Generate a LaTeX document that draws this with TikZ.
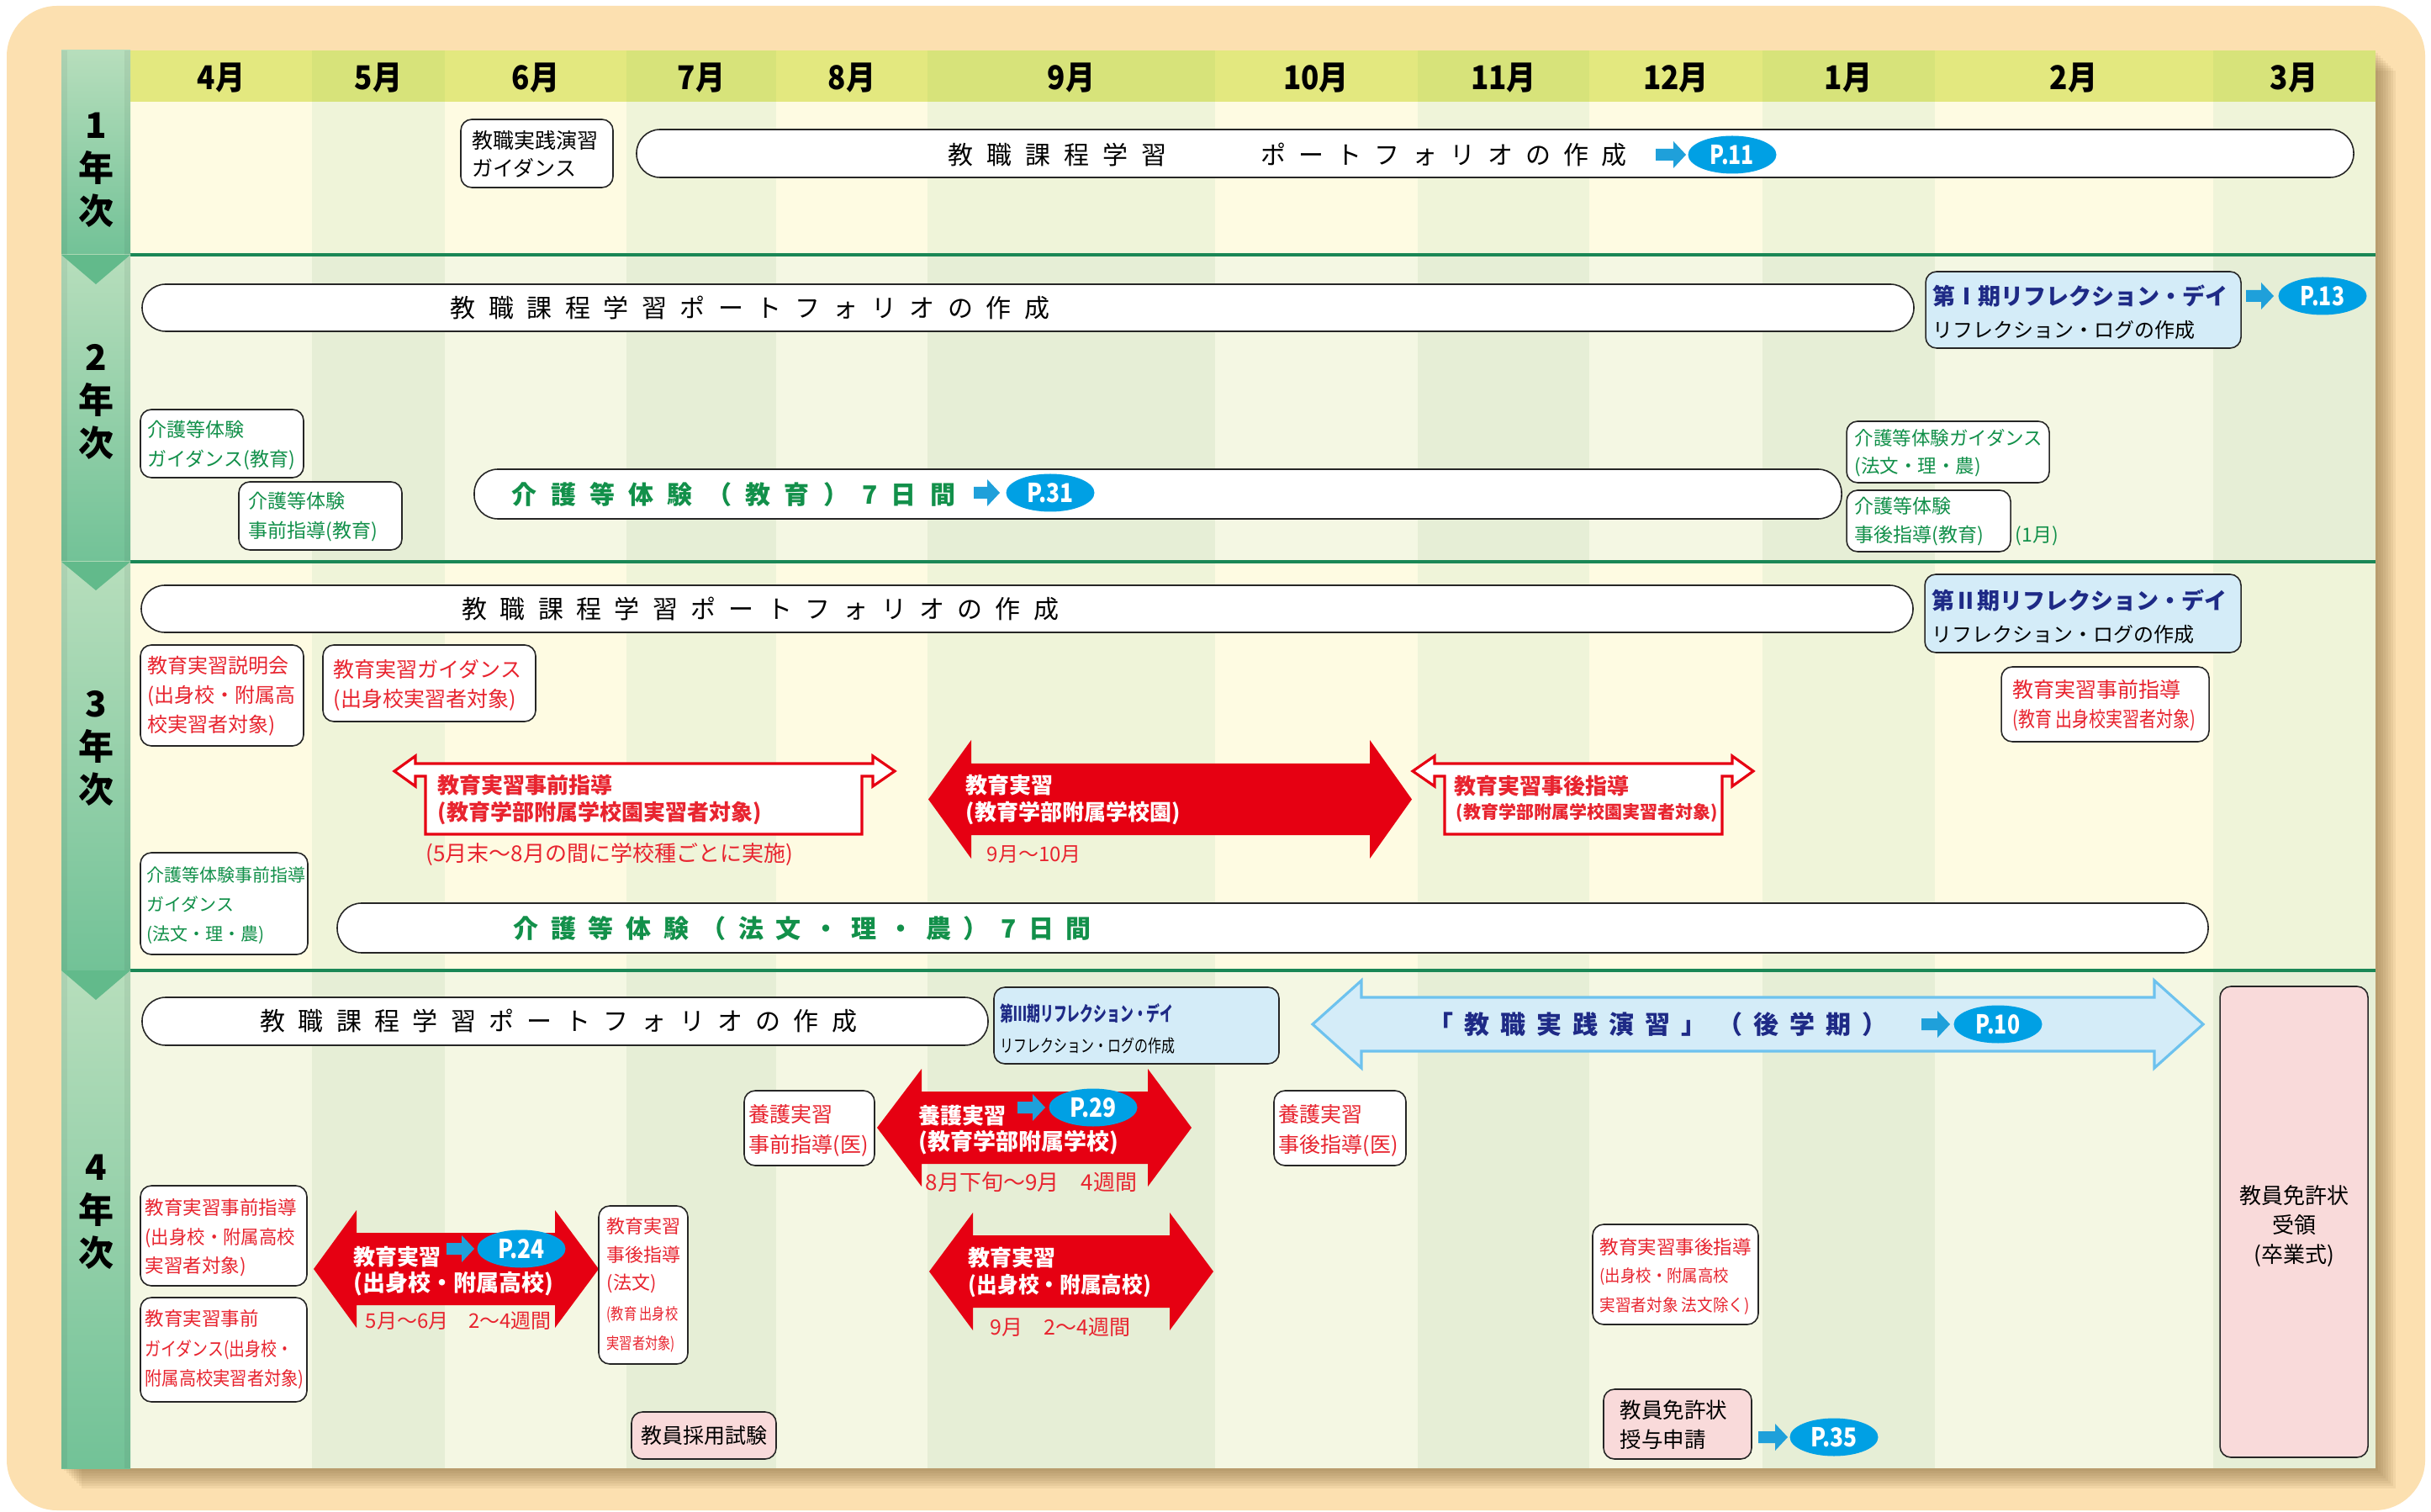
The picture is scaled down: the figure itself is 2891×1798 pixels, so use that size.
\documentclass[tikz,border=0pt]{standalone}
\usepackage{fontspec}
\setmainfont{Noto Sans CJK JP}
\usepackage{graphicx}
\usetikzlibrary{shapes.geometric}
\newdimen\pxu \pxu=0.1mm
\newcommand\fz[2]{\fontsize{#1\pxu}{#2\pxu}\selectfont}
\newcommand\cnd[2]{\scalebox{#1}[1]{#2}}
\makeatletter
\newcommand\sptxt[2]{\begingroup\def\sp@g{#1}\@tfor\sp@c:=#2\do{\sp@c\hskip\sp@g\pxu\relax}\unskip\endgroup}
\makeatother
\definecolor{panel}{HTML}{FCE0B0}
\definecolor{hdA}{HTML}{E3E87F}
\definecolor{hdB}{HTML}{D7E37A}
\definecolor{yA}{HTML}{FEFBE2}
\definecolor{yB}{HTML}{EFF4D9}
\definecolor{gA}{HTML}{F4F7E3}
\definecolor{gB}{HTML}{E6EED6}
\definecolor{sepg}{HTML}{1A8756}
\definecolor{ycTop}{HTML}{B7DEBC}
\definecolor{ycBot}{HTML}{72C297}
\definecolor{triC}{HTML}{62BA8B}
\definecolor{redc}{HTML}{E60012}
\definecolor{redt}{HTML}{E8242F}
\definecolor{grn}{HTML}{12904A}
\definecolor{navy}{HTML}{1E2A86}
\definecolor{lblue}{HTML}{D4ECF8}
\definecolor{lbline}{HTML}{6DC2EE}
\definecolor{pblue}{HTML}{00A0E4}
\definecolor{parrowc}{HTML}{1FA0DA}
\definecolor{pinkf}{HTML}{F9DADA}
\definecolor{shadowc}{HTML}{6B4E22}
\newcommand\dblarrow[8]{\path[#1] (#2,#6) -- (#3,#6-#8) -- (#3,#6-#7) -- (#4,#6-#7) -- (#4,#6-#8) -- (#5,#6) -- (#4,#6+#8) -- (#4,#6+#7) -- (#3,#6+#7) -- (#3,#6+#8) -- cycle;}
\newcommand\outarrow[6]{\path[rout] (#1,917) -- (#2,899) -- (#2,908) -- (#5,908) -- (#5,899) -- (#6,917) -- (#5,935) -- (#5,923) -- (#4,923) -- (#4,992) -- (#3,992) -- (#3,923) -- (#2,923) -- (#2,935) -- cycle;}
\newcommand\parw[3]{\fill[parrowc] (#1,#3-7) -- (#2-15,#3-7) -- (#2-15,#3-16) -- (#2,#3) -- (#2-15,#3+16) -- (#2-15,#3+7) -- (#1,#3+7) -- cycle;}
\begin{document}
\begin{tikzpicture}[x=0.1mm,y=-0.1mm,
  box/.style={draw=black!85, line width=0.45pt, rounded corners=1.3mm, fill=white},
  pbox/.style={box, fill=pinkf},
  bbox/.style={box, fill=lblue},
  pill/.style={draw=black!85, line width=0.45pt, rounded corners=2.8mm, fill=white},
  tx/.style={inner sep=0pt, anchor=west, align=left},
  tc/.style={inner sep=0pt, align=center},
  pell/.style={ellipse, fill=pblue, text=white, inner sep=0pt, minimum width=10.5mm, minimum height=4.5mm, font=\fz{31}{32}\bfseries},
  rout/.style={draw=redc, line width=0.9pt, fill=white, line join=miter},
  rsolid/.style={fill=redc},
  bout/.style={draw=lbline, line width=0.9pt, fill=lblue, line join=miter},
  month/.style={inner sep=0pt, font=\fz{39}{40}\bfseries},
  year/.style={inner sep=0pt, align=center, font=\fz{42}{51}\bfseries}
]
% background and panel
\fill[white] (0,0) rectangle (2891,1798);
\fill[panel, rounded corners=6mm] (8,7) rectangle (2884,1796);
% shadow
\foreach \k in {1,...,8}
  \fill[shadowc, opacity=0.07] (73+3*\k,60+3*\k) rectangle (2825+3*\k,1746+3*\k);
% columns
\foreach \xa/\xb [count=\i] in {155/371,371/529,529/745,745/923,923/1103,1103/1445,1445/1686,1686/1890,1890/2096,2096/2301,2301/2632,2632/2825}{
  \ifodd\i \def\ca{hdA}\def\cb{yA}\def\cc{gA}\else \def\ca{hdB}\def\cb{yB}\def\cc{gB}\fi
  \fill[\ca] (\xa,60) rectangle (\xb,121);
  \fill[\cb] (\xa,121) rectangle (\xb,303);
  \fill[\cc] (\xa,303) rectangle (\xb,668);
  \fill[\cb] (\xa,668) rectangle (\xb,1154);
  \fill[\cc] (\xa,1154) rectangle (\xb,1746);
}
\foreach \y in {303,668,1154}
  \draw[sepg, line width=1.15pt] (155,\y) -- (2825,\y);
% month labels
\foreach \m/\x in {4月/263,5月/450,6月/637,7月/834,8月/1013,9月/1274,10月/1565,11月/1788,12月/1993,1月/2198,2月/2466,3月/2728}
  \node[month] (m\x) at (\x,93) {\cnd{0.9}{\m}};
% year column
\foreach \ya/\yb in {60/303,303/668,668/1154,1154/1746}
  \shade[top color=ycTop, bottom color=ycBot] (73,\ya) rectangle (155,\yb);
\fill[black, opacity=0.05] (73,60) rectangle (80,1746);
\fill[black, opacity=0.05] (148,60) rectangle (155,1746);
\foreach \y/\t in {303/338,668/702,1154/1189}
  \fill[triC] (73,\y) -- (155,\y) -- (114,\t) -- cycle;
\node[year] (y1) at (114,202) {1\\年\\次};
\node[year] (y2) at (114,478) {2\\年\\次};
\node[year] (y3) at (114,890) {3\\年\\次};
\node[year] (y4) at (114,1441) {4\\年\\次};

% ===== Row 1 =====
\draw[box] (548,142) rectangle (729,223);
\node[tx, font=\fz{25}{33}] (g1) at (561,183.5) {教職実践演習\\ガイダンス};
\draw[pill] (757,154) rectangle (2799,211);
\node[tx, font=\fz{30}{32}] (pf1a) at (1127,184) {\sptxt{16}{教職課程学習}};
\node[tx, font=\fz{30}{32}] (pf1b) at (1499,184) {\sptxt{15}{ポートフォリオの作成}};
\parw{1969}{2005}{184}
\node[pell] (p11) at (2060,184) {\cnd{0.8}{P.11}};

% ===== Row 2 =====
\draw[pill] (169,338) rectangle (2276,394);
\node[tx, font=\fz{30}{32}] (pf2) at (535,366) {\sptxt{15.5}{教職課程学習ポートフォリオの作成}};
\draw[bbox] (2290,323) rectangle (2665,414);
\node[tx, text=navy, font=\fz{27}{30}\bfseries] (r1t) at (2298,352) {第Ⅰ期リフレクション・デイ};
\node[tx, font=\fz{24}{30}] (r1s) at (2298,392) {リフレクション・ログの作成};
\parw{2671}{2704}{352}
\node[pell] (p13) at (2762,352) {\cnd{0.8}{P.13}};
\draw[box] (167,487) rectangle (361,568);
\node[tx, text=grn, font=\fz{23}{35}] (k1) at (175,529.5) {介護等体験\\ガイダンス(教育)};
\draw[box] (284,573) rectangle (478,654);
\node[tx, text=grn, font=\fz{23}{35}] (k2) at (295,614.5) {介護等体験\\事前指導(教育)};
\draw[pill] (564,558) rectangle (2190,617);
\node[tx, text=grn, font=\fz{30}{32}\bfseries] (k3) at (608,588) {\sptxt{16.3}{介護等体験（教育）7日間}};
\parw{1158}{1189}{586}
\node[pell] (p31) at (1249,586) {\cnd{0.85}{P.31}};
\draw[box] (2196,501) rectangle (2437,574);
\node[tx, text=grn, font=\fz{22.5}{33}] (k4) at (2205,538.5) {介護等体験ガイダンス\\(法文・理・農)};
\draw[box] (2196,583) rectangle (2391,656);
\node[tx, text=grn, font=\fz{23}{34}] (k5) at (2205,620) {介護等体験\\事後指導(教育)};
\node[tx, text=grn, font=\fz{23}{34}] (k5m) at (2396,637) {(1月)};

% ===== Row 3 =====
\draw[pill] (168,696) rectangle (2275,752);
\node[tx, font=\fz{30}{32}] (pf3) at (549,724) {\sptxt{15.3}{教職課程学習ポートフォリオの作成}};
\draw[bbox] (2289,683) rectangle (2665,776);
\node[tx, text=navy, font=\fz{27}{30}\bfseries] (r2t) at (2297,714) {第Ⅱ期リフレクション・デイ};
\node[tx, font=\fz{24}{30}] (r2s) at (2297,754) {リフレクション・ログの作成};
\draw[box] (2380,793) rectangle (2627,882);
\node[tx, text=redt, font=\fz{25}{35}] (e1) at (2393,838.5) {教育実習事前指導\\\cnd{0.8}{(教育 出身校実習者対象)}};
\draw[box] (167,767) rectangle (361,887);
\node[tx, text=redt, font=\fz{24}{35}] (e2) at (175,828) {教育実習説明会\\(出身校・附属高\\校実習者対象)};
\draw[box] (384,767) rectangle (637,858);
\node[tx, text=redt, font=\fz{25}{35}] (e3) at (396,814.5) {教育実習ガイダンス\\(出身校実習者対象)};
\outarrow{469}{494}{506}{1025}{1038}{1064}
\node[tx, text=redt, font=\fz{26}{32}\bfseries] (e4) at (520,951) {教育実習事前指導\\(教育学部附属学校園実習者対象)};
\node[tx, text=redt, font=\fz{26}{30}] (e4n) at (506,1016) {(5月末～8月の間に学校種ごとに実施)};
\dblarrow{rsolid}{1104}{1155}{1629}{1679}{950.5}{42.5}{70.5}
\node[tx, text=white, font=\fz{26}{32}\bfseries] (e5) at (1148,951) {教育実習\\(教育学部附属学校園)};
\node[tx, text=redt, font=\fz{24}{30}] (e5n) at (1173,1016) {9月～10月};
\outarrow{1680}{1706}{1718}{2048}{2060}{2085}
\node[tx, text=redt, font=\fz{26}{30}\bfseries] (e6) at (1729,935) {教育実習事後指導};
\node[tx, text=redt, font=\fz{21}{30}\bfseries] (e6b) at (1731,967) {(教育学部附属学校園実習者対象)};
\draw[box] (167,1014) rectangle (366,1135);
\node[tx, text=grn, font=\fz{21}{35}] (k6) at (174,1077) {介護等体験事前指導\\ガイダンス\\(法文・理・農)};
\draw[pill, rounded corners=2.9mm] (401,1074) rectangle (2626,1133);
\node[tx, text=grn, font=\fz{30}{32}\bfseries] (k7) at (610,1104) {\sptxt{14.6}{介護等体験（法文・理・農）7日間}};

% ===== Row 4 =====
\draw[pill] (169,1186) rectangle (1175,1243);
\node[tx, font=\fz{30}{32}] (pf4) at (309,1214.5) {\sptxt{15.3}{教職課程学習ポートフォリオの作成}};
\draw[bbox] (1182,1174) rectangle (1521,1265);
\node[tx, text=navy, font=\fz{24}{30}\bfseries] (r3t) at (1189,1205) {\cnd{0.66}{第Ⅲ期リフレクション・デイ}};
\node[tx, font=\fz{21}{30}] (r3s) at (1189,1244) {\cnd{0.76}{リフレクション・ログの作成}};
\dblarrow{bout}{1561}{1619}{2562}{2620}{1218}{32}{52}
\node[tx, text=navy, font=\fz{30}{32}\bfseries] (jp) at (1698,1218) {\sptxt{13}{「教職実践演習」（後学期）}};
\parw{2285}{2319}{1218}
\node[pell] (p10) at (2376,1218) {\cnd{0.8}{P.10}};
\draw[pbox] (2640,1173) rectangle (2816,1733);
\node[tc, font=\fz{26}{35}] (lic) at (2728,1458) {教員免許状\\受領\\(卒業式)};
\draw[box] (885,1297) rectangle (1040,1386);
\node[tx, text=redt, font=\fz{25}{36}] (y1b) at (890,1344) {養護実習\\事前指導(医)};
\dblarrow{rsolid}{1043}{1096}{1365}{1417}{1341}{43}{70}
\node[tx, text=white, font=\fz{26}{32}\bfseries] (y2a) at (1092,1327) {養護実習};
\parw{1210}{1243}{1317}
\node[pell] (p29) at (1300,1317) {\cnd{0.85}{P.29}};
\node[tx, text=white, font=\fz{27}{32}\bfseries] (y2b) at (1092,1359) {(教育学部附属学校)};
\node[tx, text=redt, font=\fz{26}{30}] (y2n) at (1100,1406) {8月下旬～9月　4週間};
\draw[box] (1515,1297) rectangle (1672,1386);
\node[tx, text=redt, font=\fz{25}{36}] (y3b) at (1520,1344) {養護実習\\事後指導(医)};
\dblarrow{rsolid}{1105}{1157}{1391}{1443}{1512}{43}{70}
\node[tx, text=white, font=\fz{26}{32}\bfseries] (e7) at (1151,1513) {教育実習\\\cnd{0.95}{(出身校・附属高校)}};
\node[tx, text=redt, font=\fz{25}{30}] (e7n) at (1177,1578) {9月　2～4週間};
\dblarrow{rsolid}{373}{424}{660}{712}{1509}{43}{70}
\node[tx, text=white, font=\fz{26}{32}\bfseries] (e8a) at (420,1495) {教育実習};
\parw{531}{564}{1485}
\node[pell] (p24) at (620,1485) {\cnd{0.85}{P.24}};
\node[tx, text=white, font=\fz{27}{32}\bfseries] (e8b) at (420,1527) {(出身校・附属高校)};
\node[tx, text=redt, font=\fz{24}{30}] (e8n) at (434,1571) {5月～6月　2～4週間};
\draw[box] (167,1410) rectangle (365,1529);
\node[tx, text=redt, font=\fz{22.5}{34.5}] (e9) at (172,1472) {教育実習事前指導\\\cnd{0.95}{(出身校・附属高校}\\実習者対象)};
\draw[box] (167,1543) rectangle (365,1667);
\node[tx, text=redt, font=\fz{22.5}{35.5}] (e10) at (172,1605) {教育実習事前\\\cnd{0.84}{ガイダンス(出身校・}\\\cnd{0.9}{附属高校実習者対象)}};
\draw[box] (712,1434) rectangle (818,1622);
\node[tx, text=redt, font=\fz{22}{33.5}] (e11) at (721,1493) {教育実習\\事後指導\\(法文)};
\node[tx, text=redt, font=\fz{19}{35}] (e11b) at (721,1580.5) {\cnd{0.8}{(教育 出身校}\\\cnd{0.8}{実習者対象)}};
\draw[pbox] (751,1679) rectangle (923,1735);
\node[tc, font=\fz{25}{30}] (exam) at (837,1707) {教員採用試験};
\draw[box] (1894,1456) rectangle (2091,1575);
\node[tx, text=redt, font=\fz{22.5}{30}] (e12) at (1902,1483) {教育実習事後指導};
\node[tx, text=redt, font=\fz{20}{35}] (e12b) at (1902,1535.5) {\cnd{0.92}{(出身校・附属高校}\\\cnd{0.93}{実習者対象 法文除く)}};
\draw[pbox] (1907,1652) rectangle (2083,1735);
\node[tx, font=\fz{25.5}{35}] (app) at (1926,1694.5) {教員免許状\\授与申請};
\parw{2091}{2126}{1709}
\node[pell] (p35) at (2181,1709) {\cnd{0.85}{P.35}};
\end{tikzpicture}
\end{document}
